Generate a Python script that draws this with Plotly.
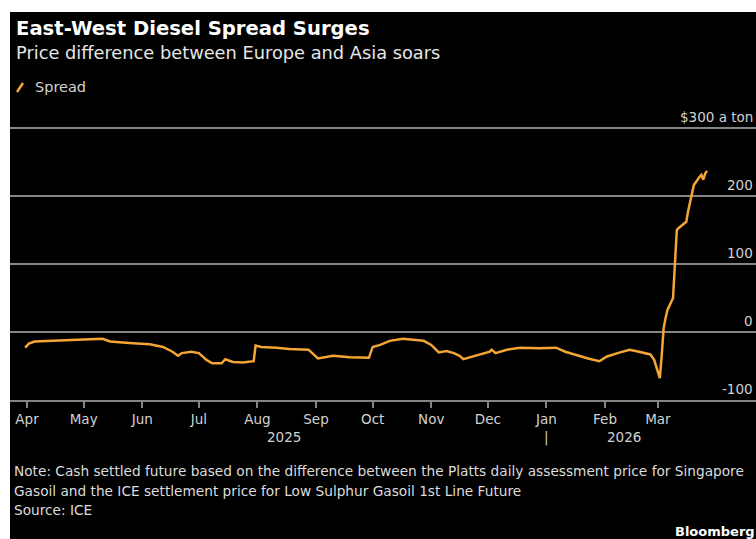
import pandas as pd
import plotly.graph_objects as go

# ---------------- data ----------------
series_name = "Spread"
dates = [
    "2025-03-31", "2025-04-02", "2025-04-05", "2025-04-18", "2025-05-01", "2025-05-11",
    "2025-05-15", "2025-05-25", "2025-06-05", "2025-06-12", "2025-06-17", "2025-06-20",
    "2025-06-22", "2025-06-27", "2025-07-01", "2025-07-05", "2025-07-08", "2025-07-13",
    "2025-07-15", "2025-07-19", "2025-07-24", "2025-07-30", "2025-07-31", "2025-08-03",
    "2025-08-11", "2025-08-18", "2025-08-28", "2025-09-02", "2025-09-10", "2025-09-19",
    "2025-09-29", "2025-10-01", "2025-10-05", "2025-10-10", "2025-10-17", "2025-10-28",
    "2025-11-01", "2025-11-05", "2025-11-09", "2025-11-13", "2025-11-16", "2025-11-18",
    "2025-11-25", "2025-12-02", "2025-12-03", "2025-12-05", "2025-12-11", "2025-12-18",
    "2025-12-28", "2026-01-06", "2026-01-11", "2026-01-18", "2026-01-23", "2026-01-29",
    "2026-02-02", "2026-02-09", "2026-02-14", "2026-02-19", "2026-02-25", "2026-02-27",
    "2026-03-02", "2026-03-03", "2026-03-04", "2026-03-05", "2026-03-06", "2026-03-09",
    "2026-03-10", "2026-03-11", "2026-03-12", "2026-03-13", "2026-03-16", "2026-03-17",
    "2026-03-18", "2026-03-19", "2026-03-20", "2026-03-23", "2026-03-24", "2026-03-25",
    "2026-03-26", "2026-03-27",
]
spread = [
    -23, -17, -14, -12, -11, -10,
    -14, -16, -18, -22, -29, -35,
    -31, -29, -31, -41, -46, -46,
    -40, -44, -45, -43, -20, -22,
    -23, -25, -26, -39, -35, -37,
    -38, -22, -19, -13, -10, -13,
    -19, -30, -28, -31, -35, -40,
    -35, -29, -26, -31, -26, -23,
    -24, -23, -29, -35, -39, -43,
    -36, -30, -26, -29, -33, -41,
    -68, -35, 5, 20, 32, 50,
    96, 150, 153, 155, 162, 178,
    192, 207, 216, 228, 231, 224,
    233, 237,
]
month_ticks = ["2025-04-01", "2025-05-01", "2025-06-01", "2025-07-01", "2025-08-01",
               "2025-09-01", "2025-10-01", "2025-11-01", "2025-12-01", "2026-01-01",
               "2026-02-01", "2026-03-01"]
month_labels = ["Apr", "May", "Jun", "Jul", "Aug", "Sep", "Oct", "Nov", "Dec", "Jan", "Feb", "Mar"]
year_labels = ["2025", "2026"]
year_label_dates = ["2025-08-15", "2026-02-11"]
year_sep_date = "2026-01-01"
y_ticks = [-100, 0, 100, 200, 300]
y_labels = ["-100", "0", "100", "200", "$300 a ton"]

title = "East-West Diesel Spread Surges"
subtitle = "Price difference between Europe and Asia soars"
note_lines = [
    "Note: Cash settled future based on the difference between the Platts daily assessment price for Singapore",
    "Gasoil and the ICE settlement price for Low Sulphur Gasoil 1st Line Future",
    "Source: ICE",
]
brand = "Bloomberg"

# ---------------- layout geometry ----------------
W, H = 756, 539
L, R, T, B = 10, 0, 121, 139
PW, PH = W - L - R, H - T - B
FONT = "DejaVu Sans"
ORANGE = "#f4a534"
GRID = "#858585"
TXT = "#d2d2d2"

base = pd.Timestamp("2025-04-01")
px_per_day = 1.889
x0_px = 27
xstart = base + pd.Timedelta(days=(L - x0_px) / px_per_day)
xend = base + pd.Timedelta(days=(W - R - x0_px) / px_per_day)
ymin = -100
ymax = ymin + PH / 0.68


def xp(px):
    return (px - L) / PW


def yp(py):
    return (H - B - py) / PH


fig = go.Figure()
fig.add_trace(go.Scatter(
    x=pd.to_datetime(dates), y=spread, mode="lines", name=series_name,
    line=dict(color=ORANGE, width=2.5), showlegend=False,
))

annotations = []
# y labels above gridlines
for v, t in zip(y_ticks, y_labels):
    annotations.append(dict(
        x=1, xref="paper", xanchor="right", xshift=-1,
        y=v, yref="y", yanchor="bottom", yshift=1,
        text=t, showarrow=False, font=dict(family=FONT, size=13.5, color=TXT),
    ))
# year labels
for d, t in zip(year_label_dates, year_labels):
    annotations.append(dict(
        x=d, xref="x", xanchor="center", y=yp(437), yref="paper", yanchor="middle",
        text=t, showarrow=False, font=dict(family=FONT, size=13.5, color=TXT),
    ))
annotations.append(dict(
    x=year_sep_date, xref="x", xanchor="center", y=yp(437), yref="paper", yanchor="middle",
    text="|", showarrow=False, font=dict(family=FONT, size=13.5, color=TXT),
))
# titles
annotations.append(dict(
    x=xp(14), xref="paper", xanchor="left", y=yp(28), yref="paper", yanchor="middle",
    text="<b>" + title + "</b>", showarrow=False, font=dict(family=FONT, size=19.6, color="#ffffff"),
))
annotations.append(dict(
    x=xp(14), xref="paper", xanchor="left", y=yp(52), yref="paper", yanchor="middle",
    text=subtitle, showarrow=False, font=dict(family=FONT, size=17.8, color="#e6e6e6"),
))
# legend
annotations.append(dict(
    x=xp(33), xref="paper", xanchor="left", y=yp(87), yref="paper", yanchor="middle",
    text=series_name, showarrow=False, font=dict(family=FONT, size=14.5, color=TXT),
))
# notes
for py, t in zip([471, 491, 510], note_lines):
    annotations.append(dict(
        x=xp(12), xref="paper", xanchor="left", y=yp(py), yref="paper", yanchor="middle",
        text=t, showarrow=False, font=dict(family=FONT, size=13.7, color="#dcdcdc"),
    ))
annotations.append(dict(
    x=xp(757), xref="paper", xanchor="right", y=yp(531), yref="paper", yanchor="middle",
    text="<b>" + brand + "</b>", showarrow=False, font=dict(family=FONT, size=13, color="#ffffff"),
))

shapes = [
    dict(type="rect", xref="paper", yref="paper", x0=xp(10), x1=xp(W + 5), y0=yp(H + 5), y1=yp(12),
         fillcolor="#000000", line=dict(width=0), layer="below"),
    dict(type="line", xref="paper", yref="paper", x0=xp(17), y0=yp(92), x1=xp(23), y1=yp(83),
         line=dict(color=ORANGE, width=2.5)),
]

fig.update_layout(
    width=W, height=H,
    margin=dict(l=L, r=R, t=T, b=B, pad=0),
    paper_bgcolor="#ffffff", plot_bgcolor="#000000",
    annotations=annotations, shapes=shapes,
    showlegend=False,
    font=dict(family=FONT),
)
fig.update_xaxes(
    type="date", range=[xstart, xend],
    tickvals=pd.to_datetime(month_ticks), ticktext=month_labels,
    ticks="outside", ticklen=6, tickwidth=1.5, tickcolor=GRID,
    showgrid=False, zeroline=False, showline=True, linecolor=GRID, linewidth=2,
    tickfont=dict(family=FONT, size=13.5, color=TXT),
)
fig.update_yaxes(
    range=[ymin, ymax], tickvals=y_ticks, showticklabels=False,
    showgrid=True, gridcolor=GRID, gridwidth=2, zeroline=False, showline=False,
    ticks="",
)

fig.write_html("out.html")
